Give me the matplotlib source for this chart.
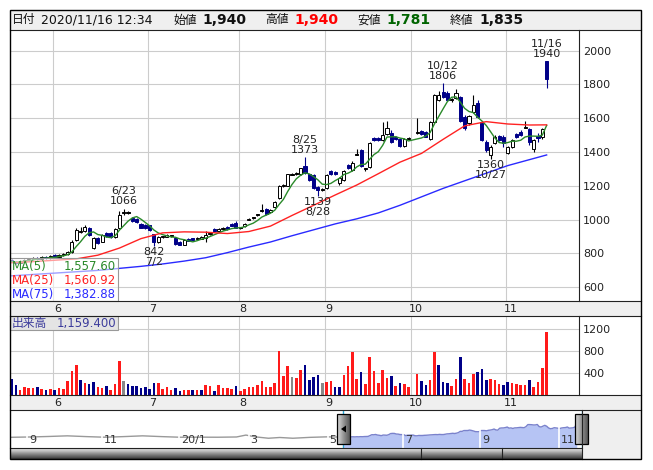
import numpy as np
import pandas as pd
import matplotlib
matplotlib.use('Agg')
import matplotlib.pyplot as plt
from matplotlib.patches import Rectangle, Polygon

plt.rcParams['font.family'] = ['DejaVu Sans', 'Noto Sans CJK JP']

nan = np.nan

# daily candles, trading-day index 0 = 2020/05/18 ... 124 = 2020/11/16 (93 = 10/1, no trading)
opens = [762, 752, 745, 757, 764, 770, 776, 766, 780, 772,
         790, 780, 793, 798, 806, 880, 926, 934, 952, 832,
         892, 870, 920, 922, 896, 948, 1040, 1044, 1012, 1004,
         976, 968, 966, 913, 870, 898, 900, 905, 894, 868,
         852, 884, 890, 884, 888, 894, 914, 944, 934, 944,
         958, 976, 978, 950, 960, 1000, 1010, 1028, 1050, 1066,
         1048, 1076, 1128, 1198, 1202, 1266, 1274, 1268, 1320, 1268,
         1265, 1196, 1180, 1186, 1286, 1284, 1215, 1235, 1324, 1294,
         1385, 1412, 1300, 1314, 1484, 1482, 1472, 1505, 1511, 1488,
         1480, 1436, 1480, nan, 1515, 1525, 1520, 1478, 1580, 1708,
         1758, 1752, 1706, 1718, 1724, 1610, 1570, 1639, 1689, 1580,
         1462, 1383, 1456, 1495, 1491, 1397, 1432, 1507, 1521, 1545,
         1535, 1416, 1495, 1487, 1940]
highs = [770, 758, 760, 768, 774, 780, 779, 784, 784, 792,
         795, 797, 802, 812, 878, 952, 954, 966, 958, 898,
         898, 918, 926, 928, 950, 1050, 1066, 1050, 1016, 1008,
         980, 972, 970, 916, 906, 906, 914, 912, 898, 872,
         884, 890, 894, 896, 902, 935, 928, 950, 948, 956,
         962, 980, 992, 958, 980, 1010, 1018, 1036, 1090, 1072,
         1064, 1108, 1206, 1210, 1272, 1274, 1280, 1308, 1373, 1272,
         1268, 1200, 1186, 1270, 1296, 1290, 1250, 1296, 1330, 1350,
         1418, 1418, 1306, 1460, 1490, 1488, 1580, 1584, 1530, 1494,
         1486, 1484, 1492, nan, 1604, 1530, 1525, 1584, 1745, 1760,
         1806, 1760, 1722, 1771, 1730, 1618, 1620, 1738, 1710, 1586,
         1470, 1440, 1500, 1502, 1498, 1438, 1478, 1512, 1528, 1586,
         1540, 1475, 1510, 1545, 1940]
lows = [748, 738, 742, 752, 758, 764, 762, 764, 768, 770,
        776, 778, 786, 790, 802, 876, 920, 928, 905, 825,
        855, 866, 900, 890, 892, 944, 1030, 1034, 988, 982,
        948, 944, 936, 842, 862, 890, 896, 896, 852, 848,
        848, 872, 872, 878, 884, 870, 910, 928, 930, 940,
        940, 960, 948, 944, 956, 996, 1004, 1024, 1044, 1028,
        1044, 1072, 1122, 1192, 1198, 1262, 1264, 1262, 1270, 1230,
        1184, 1139, 1170, 1180, 1262, 1262, 1205, 1230, 1298, 1290,
        1380, 1310, 1290, 1308, 1466, 1468, 1466, 1498, 1452, 1470,
        1428, 1430, 1474, nan, 1508, 1498, 1488, 1470, 1575, 1700,
        1720, 1700, 1698, 1712, 1576, 1530, 1560, 1632, 1600, 1466,
        1400, 1360, 1450, 1466, 1428, 1390, 1426, 1486, 1496, 1540,
        1440, 1400, 1462, 1480, 1781]
closes = [752, 745, 757, 764, 770, 776, 766, 780, 772, 786,
          780, 793, 798, 806, 870, 940, 934, 958, 912, 894,
          862, 912, 906, 896, 946, 1030, 1044, 1040, 992, 986,
          952, 948, 940, 868, 900, 903, 910, 908, 858, 852,
          880, 876, 878, 892, 898, 910, 924, 932, 944, 952,
          944, 964, 952, 951, 976, 1005, 1012, 1032, 1052, 1034,
          1060, 1102, 1200, 1204, 1268, 1268, 1270, 1304, 1276, 1236,
          1186, 1176, 1176, 1265, 1270, 1268, 1245, 1288, 1306, 1334,
          1388, 1316, 1298, 1452, 1472, 1474, 1501, 1545, 1458, 1476,
          1434, 1478, 1482, nan, 1518, 1505, 1492, 1580, 1738, 1738,
          1728, 1708, 1710, 1748, 1582, 1545, 1614, 1679, 1610, 1472,
          1412, 1432, 1491, 1474, 1452, 1432, 1472, 1491, 1503, 1548,
          1458, 1472, 1485, 1538, 1835]

# volume (thousand shares) and change vs previous close: u / d / f (- = no trading)
volume = [298, 186, 93, 149, 130, 130, 149, 112, 93, 112,
          93, 130, 118, 260, 447, 539, 279, 223, 205, 242,
          149, 130, 167, 93, 205, 614, 260, 205, 167, 167,
          130, 149, 112, 223, 223, 112, 149, 93, 130, 74,
          93, 93, 93, 93, 93, 186, 167, 74, 186, 130,
          130, 112, 167, 74, 112, 149, 149, 186, 260, 149,
          149, 223, 800, 353, 521, 335, 316, 465, 539, 279,
          335, 372, 223, 242, 260, 149, 149, 372, 521, 781,
          298, 428, 205, 688, 446, 223, 465, 316, 353, 167,
          223, 205, 149, 0, 391, 260, 186, 279, 781, 539,
          242, 223, 167, 298, 688, 298, 223, 391, 428, 484,
          279, 298, 279, 205, 186, 242, 223, 205, 186, 186,
          279, 149, 242, 502, 1159.4]
change = ("dduuuududu" "duuuuududd" "uuduuufddd" "dddduuuudd"
          "uududuuduu" "uuduuuuuuu" "uuuuufuudd" "ddfuudduuu"
          "uduuuuuudu" "duu-udduud" "dduuduuudd" "duuudduuuu"
          "duuuu")

# moving averages (every 5 sessions)
ma_idx = [0, 5, 10, 15, 20, 25, 30, 35, 40, 45, 50, 55, 60, 65, 70, 75,
          80, 85, 90, 95, 100, 105, 110, 115, 120, 124]
ma25 = [745, 752, 760, 768, 790, 832, 888, 922, 928, 926, 918, 930, 962,
        1025, 1085, 1146, 1205, 1272, 1340, 1392, 1475, 1555, 1580, 1566,
        1560, 1560.92]
ma75 = [668, 676, 684, 692, 700, 712, 724, 738, 755, 775, 805, 838, 868,
        905, 940, 975, 1005, 1040, 1085, 1135, 1185, 1230, 1275, 1320,
        1355, 1382.88]

month_idx = [10, 32, 53, 73, 93, 115]
month_labels = ['6', '7', '8', '9', '10', '11']

# peaks / troughs marked on the chart: (index, date, value, kind)
marks = [(26, '6/23', 1066, 'high'), (33, '7/2', 842, 'low'),
         (68, '8/25', 1373, 'high'), (71, '8/28', 1139, 'low'),
         (100, '10/12', 1806, 'high'), (111, '10/27', 1360, 'low'),
         (124, '11/16', 1940, 'high')]

# navigator: earlier history (sessions before 5/18) and month ticks
hist_days = [-177, -167, -157, -147, -137, -127, -117, -107, -97, -87, -77,
             -67, -57, -52, -47, -40, -34, -27, -18, -9, -1]
hist_close = [735, 760, 800, 850, 790, 740, 790, 850, 790, 740, 745,
              740, 760, 910, 770, 660, 720, 660, 730, 770, 755]
nav_month_idx = [-168, -128, -87, -50, -8, 32, 73, 115]
nav_month_labels = ['9', '11', '20/1', '3', '5', '7', '9', '11']

header_date = '2020/11/16 12:34'
last_volume = 1159.4

W, H = 653, 470
NAVY = '#000088'
GRID = '#cccccc'
STRIP = '#efefef'


def rect(x0, y0, x1, y1):
    return [x0 / W, 1 - y1 / H, (x1 - x0) / W, (y1 - y0) / H]


fig = plt.figure(figsize=(W / 100, H / 100), dpi=100)
fig.patch.set_facecolor('white')

# background chrome in pixel coordinates
bg = fig.add_axes([0, 0, 1, 1], zorder=0)
bg.set_xlim(0, W)
bg.set_ylim(H, 0)
bg.axis('off')
for (x0, y0, x1, y1) in [(10, 10, 641, 30), (10, 301, 641, 316),
                         (10, 395, 641, 410), (582, 410, 641, 459)]:
    bg.add_patch(Rectangle((x0, y0), x1 - x0, y1 - y0, fc=STRIP, ec='none'))

idx = np.arange(len(closes))
o = np.array(opens, float)
h = np.array(highs, float)
l = np.array(lows, float)
c = np.array(closes, float)
valid = ~np.isnan(c)
xmin, xmax = -0.35, 131.5

# ---------------- price panel ----------------
ax = fig.add_axes(rect(10, 30, 579, 301), zorder=2)
ax.set_facecolor('white')
ax.set_xlim(xmin, xmax)
ax.set_ylim(519, 2122)
for s in ax.spines.values():
    s.set_visible(False)
ax.set_yticks(range(600, 2001, 200))
ax.yaxis.tick_right()
ax.tick_params(axis='y', length=0, pad=3, labelsize=8, colors='#222222')
ax.set_xticks([m + 0.6 for m in month_idx])
ax.set_xticklabels(month_labels)
ax.set_xticks([m - 0.35 for m in month_idx], minor=True)
ax.tick_params(axis='x', which='both', length=0, pad=1.8, labelsize=8, colors='#222222')
ax.grid(which='minor', axis='x', color=GRID, lw=0.8)
ax.grid(which='major', axis='y', color=GRID, lw=0.8)
ax.grid(which='major', axis='x', visible=False)
ax.set_axisbelow(True)

for i in idx[valid]:
    body = c[i] - o[i]
    doji = abs(body) < 5
    if doji:
        col, edge = 'black', 'black'
    elif body > 0:
        col, edge = 'white', 'black'
    else:
        col, edge = NAVY, NAVY
    ax.vlines(i, l[i], h[i], color=edge, lw=0.8, zorder=3)
    ax.bar(i, max(abs(body), 6), bottom=min(o[i], c[i]), width=0.72,
           color=col, edgecolor=edge, lw=0.7, zorder=4)

closes_s = pd.Series(c[valid], index=idx[valid])
ma5 = closes_s.rolling(5, min_periods=1).mean()
ax.plot(ma5.index, ma5.values, color='#2a8a2a', lw=1, zorder=5)
ax.plot(ma_idx, ma25, color='#ff2222', lw=1, zorder=5)
ax.plot(ma_idx, ma75, color='#2a2aff', lw=1, zorder=5)

for (i, d, v, kind) in marks:
    if kind == 'high':
        ax.annotate(f'{d}\n{v}', (i, v), xytext=(0, 1.5), textcoords='offset points',
                    ha='center', va='bottom', fontsize=8, linespacing=1.0,
                    color='#222222', zorder=6)
    else:
        ax.annotate(f'{v}\n{d}', (i, v), xytext=(0, -0.5), textcoords='offset points',
                    ha='center', va='top', fontsize=8, linespacing=1.0,
                    color='#222222', zorder=6)

# ---------------- volume panel ----------------
vx = fig.add_axes(rect(10, 316, 579, 395), zorder=2)
vx.set_facecolor('white')
vx.set_xlim(xmin, xmax)
vx.set_ylim(0, 1443)
for s in vx.spines.values():
    s.set_visible(False)
vx.set_yticks([400, 800, 1200])
vx.yaxis.tick_right()
vx.tick_params(axis='y', length=0, pad=3, labelsize=8, colors='#222222')
vx.set_xticks([m + 0.6 for m in month_idx])
vx.set_xticklabels(month_labels)
vx.set_xticks([m - 0.35 for m in month_idx], minor=True)
vx.tick_params(axis='x', which='both', length=0, pad=1.8, labelsize=8, colors='#222222')
vx.grid(which='minor', axis='x', color=GRID, lw=0.8)
vx.grid(which='major', axis='y', color=GRID, lw=0.8)
vx.grid(which='major', axis='x', visible=False)
vx.set_axisbelow(True)
vol_colors = {'u': '#ff1a1a', 'd': NAVY, 'f': '#888888', '-': 'white'}
vx.bar(idx, volume, width=0.6, color=[vol_colors[k] for k in change], zorder=3)

# ---------------- navigator ----------------
nx = fig.add_axes(rect(10, 410, 582, 448), zorder=2)
nx.set_facecolor('white')
nx.set_xlim(-177.5, 126.8)
nx.set_ylim(-110, 2890)
nx.axis('off')
nx.plot(hist_days + [closes_s.index[0]], hist_close + [closes_s.values[0]],
        color='#999999', lw=1)
nx.fill_between(closes_s.index, closes_s.values, -110, color='#b6c4f4', lw=0)
nx.fill_between([-0.35, 0], [closes_s.values[0]] * 2, -110, color='#b6c4f4', lw=0)
nx.plot(closes_s.index, closes_s.values, color='#7a82cc', lw=1)
for m, lab in zip(nav_month_idx, nav_month_labels):
    nx.axvline(m - 0.5, color='white', lw=1.2)
    nx.text(m + 0.5, 520, lab, fontsize=8, ha='left', va='center', color='#333333')
nx.axvline(-0.35, color='#2aa6d6', lw=1)
nx.axvline(126.6, color='#2aa6d6', lw=1)

# ---------------- foreground chrome ----------------
fg = fig.add_axes([0, 0, 1, 1], zorder=10)
fg.patch.set_alpha(0)
fg.axis('off')

grad_v = np.linspace(0, 1, 50).reshape(-1, 1)
fg.imshow(grad_v, extent=(10, 582, 459, 448), cmap='Greys', vmin=-0.3, vmax=1.25,
          aspect='auto', zorder=1)
grad_h = np.linspace(0, 1, 30).reshape(1, -1)
for x0 in (337, 575):
    fg.imshow(grad_h, extent=(x0, x0 + 13, 444, 414), cmap='Greys', vmin=-0.6, vmax=1.6,
              aspect='auto', zorder=3)
    fg.add_patch(Rectangle((x0, 414), 13, 30, fc='none', ec='black', lw=0.9, zorder=4))
fg.add_patch(Polygon([(341, 429), (346, 425.5), (346, 432.5)], closed=True,
                     fc='black', ec='none', zorder=5))
fg.set_xlim(0, W)
fg.set_ylim(H, 0)

lines = [((10, 641), (30, 30)), ((10, 641), (301, 301)), ((10, 641), (316, 316)),
         ((10, 641), (395, 395)), ((10, 641), (410, 410)), ((10, 582), (448, 448)),
         ((579, 579), (30, 301)), ((579, 579), (316, 395)), ((582, 582), (410, 459)),
         ((421, 421), (448, 459)), ((502, 502), (448, 459))]
for xs, ys in lines:
    fg.plot(xs, ys, color='#222222', lw=0.8, zorder=6)
fg.add_patch(Rectangle((10, 10), 631, 449, fc='none', ec='black', lw=1, zorder=7))

# MA legend
fg.add_patch(Rectangle((10, 258), 108, 43, fc='white', alpha=0.55, ec='none', zorder=2))
fg.add_patch(Rectangle((10, 258), 108, 43, fc='none', ec='#999999', lw=0.8, zorder=3))
legend_rows = [('MA(5)', ma5.values[-1], '#2a8a2a', 266.5),
               ('MA(25)', ma25[-1], '#ff2222', 280.5),
               ('MA(75)', ma75[-1], '#2a2aff', 294.5)]
for name, val, col, y in legend_rows:
    fg.text(12, y, name, color=col, fontsize=8.5, ha='left', va='center', zorder=4)
    fg.text(116, y, f'{val:,.2f}', color=col, fontsize=8.5, ha='right', va='center', zorder=4)

# volume legend
fg.add_patch(Rectangle((10, 316), 108, 14, fc='#e4e4e4', ec='#999999', lw=0.8, zorder=3))
fg.text(12, 323, '出来高', color='#3c3c9c', fontsize=8.5, ha='left', va='center', zorder=4)
fg.text(116, 323, f'{last_volume:,.3f}', color='#3c3c9c', fontsize=8.5,
        ha='right', va='center', zorder=4)

# header
hy = 20
fg.text(12, hy, '日付', fontsize=8.5, va='center', color='#111111')
fg.text(41, hy, header_date, fontsize=9, va='center', color='#111111')
fg.text(173, hy, '始値', fontsize=8.5, va='center', color='#111111')
fg.text(202, hy, f'{int(opens[-1]):,}', fontsize=10, weight='bold', va='center', color='#111111')
fg.text(265, hy, '高値', fontsize=8.5, va='center', color='#111111')
fg.text(294, hy, f'{int(highs[-1]):,}', fontsize=10, weight='bold', va='center', color='#ff0000')
fg.text(357, hy, '安値', fontsize=8.5, va='center', color='#111111')
fg.text(386, hy, f'{int(lows[-1]):,}', fontsize=10, weight='bold', va='center', color='#006400')
fg.text(450, hy, '終値', fontsize=8.5, va='center', color='#111111')
fg.text(479, hy, f'{int(closes[-1]):,}', fontsize=10, weight='bold', va='center', color='#111111')

fig.savefig('out.png', dpi=100)
